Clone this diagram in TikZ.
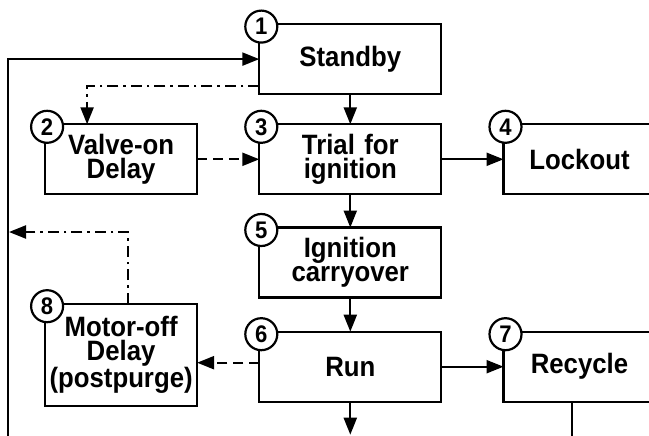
\documentclass[tikz,border=0pt]{standalone}
\usepackage{fontspec}
\setmainfont{Liberation Sans}[FakeStretch=0.92]
\usetikzlibrary{matrix,arrows.meta}

\begin{document}
\begin{tikzpicture}[x=1pt, y=1pt, line width=2.2pt,
	>={Triangle[length=17pt,width=13pt]},
	state/.style={draw, line width=2.2pt, inner sep=2pt, outer sep=0pt, align=center, anchor=center,
		minimum height=70pt, text width=148pt, font=\fontsize{28}{24}\selectfont\bfseries},
	tag/.style={circle, draw, fill=white, line width=2.2pt, minimum size=32pt, inner sep=0pt,
		font=\fontsize{24}{24}\selectfont\bfseries},
	dashlink/.style={dash pattern=on 10pt off 6pt},
	dotlink/.style={dash pattern=on 11pt off 5pt on 2.5pt off 5pt}]
		\useasboundingbox (0,0) rectangle (649,-436);
		\clip (0,0) rectangle (649,-436);
		\matrix (m) [matrix of nodes, inner sep=0pt, outer sep=0pt, row sep=28pt, column sep=60pt,
			nodes={state}, column 2/.style={nodes={text width=178pt}},
			anchor=north west] at (44,-23)
		{
			& Standby & \\
			Valve-on\par Delay & Trial for\par ignition & Lockout \\[3pt]
			& Ignition\par carryover & \\[-24pt]
			|[minimum height=102pt, yshift=12pt]| Motor-off\par Delay\par (postpurge) & Run & Recycle \\
		};
		% state numbers
		\node[tag] (n1) at ([xshift=2pt, yshift=-2.5pt]m-1-2.north west) {1};
		\node[tag] (n2) at ([xshift=2pt, yshift=-2.5pt]m-2-1.north west) {2};
		\node[tag] (n3) at ([xshift=2pt, yshift=-2.5pt]m-2-2.north west) {3};
		\node[tag] (n4) at ([xshift=2pt, yshift=-2.5pt]m-2-3.north west) {4};
		\node[tag] (n5) at ([xshift=2pt, yshift=-2.5pt]m-3-2.north west) {5};
		\node[tag] (n6) at ([xshift=2pt, yshift=-2.5pt]m-4-2.north west) {6};
		\node[tag] (n7) at ([xshift=2pt, yshift=-2.5pt]m-4-3.north west) {7};
		\node[tag] (n8) at ([xshift=2pt, yshift=-2.5pt]m-4-1.north west) {8};
		% free ends below the picture
		\coordinate (lbot) at (8,-440);
		\coordinate (rbot) at (572,-440);
		\coordinate (runout) at ([yshift=-33pt]m-4-2.south);
		\coordinate (lback) at (8,-232);
		\path[->]
			(m-1-2) edge (m-2-2) % standby to trial
			(m-2-2) edge (m-2-3) % trial to lockout
			(m-2-2) edge (m-3-2) % trial to carryover
			(m-3-2) edge (m-4-2) % carryover to run
			(m-4-2) edge (m-4-3) % run to recycle
			(m-4-2.south) edge (runout)
			(m-2-1) edge[dashlink] (m-2-2) % valve-on delay
			([yshift=4pt]m-4-2.west) edge[dashlink] ([yshift=4pt]m-4-2.west -| m-4-1.east)
			;
		\draw[->] (lbot) |- (m-1-2.west);
		\draw (m-4-3.south -| rbot) -- (rbot);
		\draw[dotlink,->] ([yshift=-27pt]m-1-2.west) -| ([xshift=-34pt]m-2-1.north);
		\draw[dotlink,->] ([xshift=7pt]m-4-1.north) |- ([xshift=1pt]lback);
\end{tikzpicture}
\end{document}
